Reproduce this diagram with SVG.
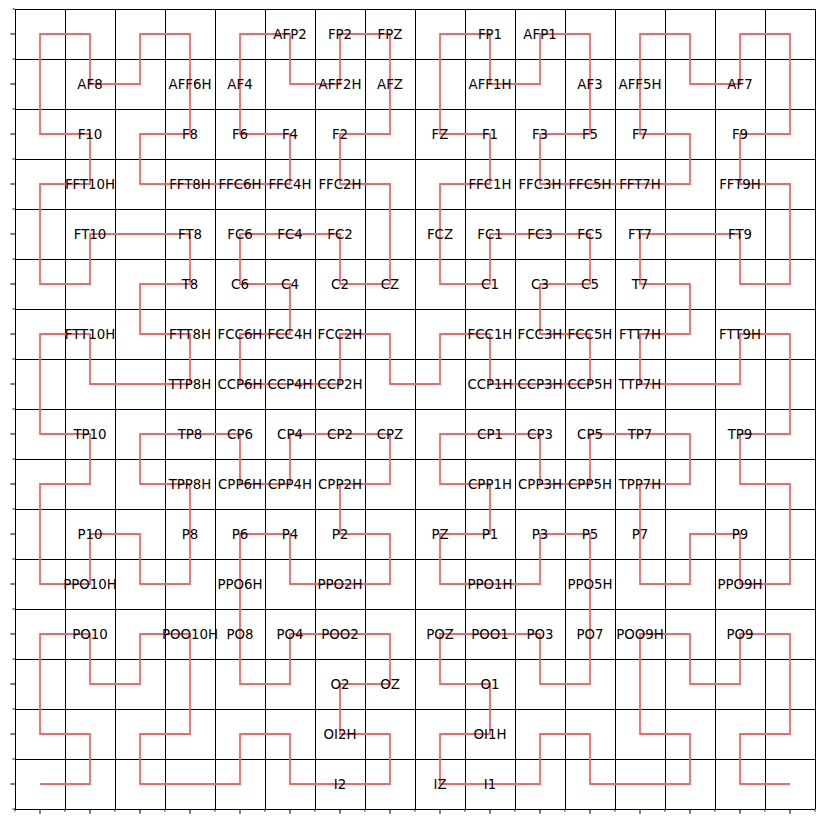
<svg xmlns="http://www.w3.org/2000/svg" width="824" height="824" viewBox="0 0 824 824">
<style>
.grid{stroke:#000;stroke-width:1;fill:none;shape-rendering:crispEdges}
.tk{stroke:#000;stroke-width:1.07;fill:none}
.tkm{stroke:#000;stroke-width:0.8;fill:none}
.curve{stroke:#ff6262;stroke-width:1.8;fill:none;stroke-linejoin:miter;stroke-linecap:butt}
text{font-family:"DejaVu Sans","Liberation Sans",sans-serif;font-size:13.33px;fill:#000;text-anchor:middle}
</style>
<rect width="824" height="824" fill="#fff"/>
<g id="grid">
<path class="grid" d="M15 9V809M65 9V809M115 9V809M165 9V809M215 9V809M265 9V809M315 9V809M365 9V809M415 9V809M465 9V809M515 9V809M565 9V809M615 9V809M665 9V809M715 9V809M765 9V809M815 9V809M15 9H815M15 59H815M15 109H815M15 159H815M15 209H815M15 259H815M15 309H815M15 359H815M15 409H815M15 459H815M15 509H815M15 559H815M15 609H815M15 659H815M15 709H815M15 759H815M15 809H815"/>
<path class="tk" d="M10.33 34h4.67M10.33 84h4.67M10.33 134h4.67M10.33 184h4.67M10.33 234h4.67M10.33 284h4.67M10.33 334h4.67M10.33 384h4.67M10.33 434h4.67M10.33 484h4.67M10.33 534h4.67M10.33 584h4.67M10.33 634h4.67M10.33 684h4.67M10.33 734h4.67M10.33 784h4.67M40 809v4.67M90 809v4.67M140 809v4.67M190 809v4.67M240 809v4.67M290 809v4.67M340 809v4.67M390 809v4.67M440 809v4.67M490 809v4.67M540 809v4.67M590 809v4.67M640 809v4.67M690 809v4.67M740 809v4.67M790 809v4.67"/>
<path class="tkm" d="M12.33 9h2.67M12.33 59h2.67M12.33 109h2.67M12.33 159h2.67M12.33 209h2.67M12.33 259h2.67M12.33 309h2.67M12.33 359h2.67M12.33 409h2.67M12.33 459h2.67M12.33 509h2.67M12.33 559h2.67M12.33 609h2.67M12.33 659h2.67M12.33 709h2.67M12.33 759h2.67M12.33 809h2.67M15 809v2.67M65 809v2.67M115 809v2.67M165 809v2.67M215 809v2.67M265 809v2.67M315 809v2.67M365 809v2.67M415 809v2.67M465 809v2.67M515 809v2.67M565 809v2.67M615 809v2.67M665 809v2.67M715 809v2.67M765 809v2.67M815 809v2.67"/>
</g>
<g id="connectors">
<path class="curve" d="M40 784
h50 v-50 h-50 v-50 v-50 h50 v50 h50 v-50 h50 v50 v50 h-50 v50 h50
h50
v-50 h50 v50 h50 h50 v-50 h-50 v-50 h50 v-50 h-50 h-50 v50 h-50 v-50
v-50
v-50 h50 v50 h50 h50 v-50 h-50 v-50 h50 v-50 h-50 h-50 v50 h-50 v-50
h-50
h-50 v50 h50 v50 v50 h-50 v-50 h-50 v50 h-50 v-50 v-50 h50 v-50 h-50
v-50
v-50 h50 v50 h50 h50 v-50 h-50 v-50 h50 v-50 h-50 h-50 v50 h-50 v-50
v-50
h50 v-50 h-50 v-50 v-50 h50 v50 h50 v-50 h50 v50 v50 h-50 v50 h50
h50
h50 v-50 h-50 v-50 v-50 h50 v50 h50 v-50 h50 v50 v50 h-50 v50 h50
v50
v50 h-50 v-50 h-50 h-50 v50 h50 v50 h-50 v50 h50 h50 v-50 h50 v50
h50
v-50 h50 v50 h50 h50 v-50 h-50 v-50 h50 v-50 h-50 h-50 v50 h-50 v-50
v-50
h50 v-50 h-50 v-50 v-50 h50 v50 h50 v-50 h50 v50 v50 h-50 v50 h50
h50
h50 v-50 h-50 v-50 v-50 h50 v50 h50 v-50 h50 v50 v50 h-50 v50 h50
v50
v50 h-50 v-50 h-50 h-50 v50 h50 v50 h-50 v50 h50 h50 v-50 h50 v50
v50
h-50 v50 h50 v50 v50 h-50 v-50 h-50 v50 h-50 v-50 v-50 h50 v-50 h-50
h-50
v50 h-50 v-50 h-50 h-50 v50 h50 v50 h-50 v50 h50 h50 v-50 h50 v50
v50
v50 h-50 v-50 h-50 h-50 v50 h50 v50 h-50 v50 h50 h50 v-50 h50 v50
h50
h50 v-50 h-50 v-50 v-50 h50 v50 h50 v-50 h50 v50 v50 h-50 v50 h50"/>
</g>
<g id="nodes">
<g id="n-AFP2"><text x="290" y="39">AFP2</text></g>
<g id="n-FP2"><text x="340" y="39">FP2</text></g>
<g id="n-FPZ"><text x="390" y="39">FPZ</text></g>
<g id="n-FP1"><text x="490" y="39">FP1</text></g>
<g id="n-AFP1"><text x="540" y="39">AFP1</text></g>
<g id="n-AF8"><text x="90" y="89">AF8</text></g>
<g id="n-AFF6H"><text x="190" y="89">AFF6H</text></g>
<g id="n-AF4"><text x="240" y="89">AF4</text></g>
<g id="n-AFF2H"><text x="340" y="89">AFF2H</text></g>
<g id="n-AFZ"><text x="390" y="89">AFZ</text></g>
<g id="n-AFF1H"><text x="490" y="89">AFF1H</text></g>
<g id="n-AF3"><text x="590" y="89">AF3</text></g>
<g id="n-AFF5H"><text x="640" y="89">AFF5H</text></g>
<g id="n-AF7"><text x="740" y="89">AF7</text></g>
<g id="n-F10"><text x="90" y="139">F10</text></g>
<g id="n-F8"><text x="190" y="139">F8</text></g>
<g id="n-F6"><text x="240" y="139">F6</text></g>
<g id="n-F4"><text x="290" y="139">F4</text></g>
<g id="n-F2"><text x="340" y="139">F2</text></g>
<g id="n-FZ"><text x="440" y="139">FZ</text></g>
<g id="n-F1"><text x="490" y="139">F1</text></g>
<g id="n-F3"><text x="540" y="139">F3</text></g>
<g id="n-F5"><text x="590" y="139">F5</text></g>
<g id="n-F7"><text x="640" y="139">F7</text></g>
<g id="n-F9"><text x="740" y="139">F9</text></g>
<g id="n-FFT10H"><text x="90" y="189">FFT10H</text></g>
<g id="n-FFT8H"><text x="190" y="189">FFT8H</text></g>
<g id="n-FFC6H"><text x="240" y="189">FFC6H</text></g>
<g id="n-FFC4H"><text x="290" y="189">FFC4H</text></g>
<g id="n-FFC2H"><text x="340" y="189">FFC2H</text></g>
<g id="n-FFC1H"><text x="490" y="189">FFC1H</text></g>
<g id="n-FFC3H"><text x="540" y="189">FFC3H</text></g>
<g id="n-FFC5H"><text x="590" y="189">FFC5H</text></g>
<g id="n-FFT7H"><text x="640" y="189">FFT7H</text></g>
<g id="n-FFT9H"><text x="740" y="189">FFT9H</text></g>
<g id="n-FT10"><text x="90" y="239">FT10</text></g>
<g id="n-FT8"><text x="190" y="239">FT8</text></g>
<g id="n-FC6"><text x="240" y="239">FC6</text></g>
<g id="n-FC4"><text x="290" y="239">FC4</text></g>
<g id="n-FC2"><text x="340" y="239">FC2</text></g>
<g id="n-FCZ"><text x="440" y="239">FCZ</text></g>
<g id="n-FC1"><text x="490" y="239">FC1</text></g>
<g id="n-FC3"><text x="540" y="239">FC3</text></g>
<g id="n-FC5"><text x="590" y="239">FC5</text></g>
<g id="n-FT7"><text x="640" y="239">FT7</text></g>
<g id="n-FT9"><text x="740" y="239">FT9</text></g>
<g id="n-T8"><text x="190" y="289">T8</text></g>
<g id="n-C6"><text x="240" y="289">C6</text></g>
<g id="n-C4"><text x="290" y="289">C4</text></g>
<g id="n-C2"><text x="340" y="289">C2</text></g>
<g id="n-CZ"><text x="390" y="289">CZ</text></g>
<g id="n-C1"><text x="490" y="289">C1</text></g>
<g id="n-C3"><text x="540" y="289">C3</text></g>
<g id="n-C5"><text x="590" y="289">C5</text></g>
<g id="n-T7"><text x="640" y="289">T7</text></g>
<g id="n-FTT10H"><text x="90" y="339">FTT10H</text></g>
<g id="n-FTT8H"><text x="190" y="339">FTT8H</text></g>
<g id="n-FCC6H"><text x="240" y="339">FCC6H</text></g>
<g id="n-FCC4H"><text x="290" y="339">FCC4H</text></g>
<g id="n-FCC2H"><text x="340" y="339">FCC2H</text></g>
<g id="n-FCC1H"><text x="490" y="339">FCC1H</text></g>
<g id="n-FCC3H"><text x="540" y="339">FCC3H</text></g>
<g id="n-FCC5H"><text x="590" y="339">FCC5H</text></g>
<g id="n-FTT7H"><text x="640" y="339">FTT7H</text></g>
<g id="n-FTT9H"><text x="740" y="339">FTT9H</text></g>
<g id="n-TTP8H"><text x="190" y="389">TTP8H</text></g>
<g id="n-CCP6H"><text x="240" y="389">CCP6H</text></g>
<g id="n-CCP4H"><text x="290" y="389">CCP4H</text></g>
<g id="n-CCP2H"><text x="340" y="389">CCP2H</text></g>
<g id="n-CCP1H"><text x="490" y="389">CCP1H</text></g>
<g id="n-CCP3H"><text x="540" y="389">CCP3H</text></g>
<g id="n-CCP5H"><text x="590" y="389">CCP5H</text></g>
<g id="n-TTP7H"><text x="640" y="389">TTP7H</text></g>
<g id="n-TP10"><text x="90" y="439">TP10</text></g>
<g id="n-TP8"><text x="190" y="439">TP8</text></g>
<g id="n-CP6"><text x="240" y="439">CP6</text></g>
<g id="n-CP4"><text x="290" y="439">CP4</text></g>
<g id="n-CP2"><text x="340" y="439">CP2</text></g>
<g id="n-CPZ"><text x="390" y="439">CPZ</text></g>
<g id="n-CP1"><text x="490" y="439">CP1</text></g>
<g id="n-CP3"><text x="540" y="439">CP3</text></g>
<g id="n-CP5"><text x="590" y="439">CP5</text></g>
<g id="n-TP7"><text x="640" y="439">TP7</text></g>
<g id="n-TP9"><text x="740" y="439">TP9</text></g>
<g id="n-TPP8H"><text x="190" y="489">TPP8H</text></g>
<g id="n-CPP6H"><text x="240" y="489">CPP6H</text></g>
<g id="n-CPP4H"><text x="290" y="489">CPP4H</text></g>
<g id="n-CPP2H"><text x="340" y="489">CPP2H</text></g>
<g id="n-CPP1H"><text x="490" y="489">CPP1H</text></g>
<g id="n-CPP3H"><text x="540" y="489">CPP3H</text></g>
<g id="n-CPP5H"><text x="590" y="489">CPP5H</text></g>
<g id="n-TPP7H"><text x="640" y="489">TPP7H</text></g>
<g id="n-P10"><text x="90" y="539">P10</text></g>
<g id="n-P8"><text x="190" y="539">P8</text></g>
<g id="n-P6"><text x="240" y="539">P6</text></g>
<g id="n-P4"><text x="290" y="539">P4</text></g>
<g id="n-P2"><text x="340" y="539">P2</text></g>
<g id="n-PZ"><text x="440" y="539">PZ</text></g>
<g id="n-P1"><text x="490" y="539">P1</text></g>
<g id="n-P3"><text x="540" y="539">P3</text></g>
<g id="n-P5"><text x="590" y="539">P5</text></g>
<g id="n-P7"><text x="640" y="539">P7</text></g>
<g id="n-P9"><text x="740" y="539">P9</text></g>
<g id="n-PPO10H"><text x="90" y="589">PPO10H</text></g>
<g id="n-PPO6H"><text x="240" y="589">PPO6H</text></g>
<g id="n-PPO2H"><text x="340" y="589">PPO2H</text></g>
<g id="n-PPO1H"><text x="490" y="589">PPO1H</text></g>
<g id="n-PPO5H"><text x="590" y="589">PPO5H</text></g>
<g id="n-PPO9H"><text x="740" y="589">PPO9H</text></g>
<g id="n-PO10"><text x="90" y="639">PO10</text></g>
<g id="n-POO10H"><text x="190" y="639">POO10H</text></g>
<g id="n-PO8"><text x="240" y="639">PO8</text></g>
<g id="n-PO4"><text x="290" y="639">PO4</text></g>
<g id="n-POO2"><text x="340" y="639">POO2</text></g>
<g id="n-POZ"><text x="440" y="639">POZ</text></g>
<g id="n-POO1"><text x="490" y="639">POO1</text></g>
<g id="n-PO3"><text x="540" y="639">PO3</text></g>
<g id="n-PO7"><text x="590" y="639">PO7</text></g>
<g id="n-POO9H"><text x="640" y="639">POO9H</text></g>
<g id="n-PO9"><text x="740" y="639">PO9</text></g>
<g id="n-O2"><text x="340" y="689">O2</text></g>
<g id="n-OZ"><text x="390" y="689">OZ</text></g>
<g id="n-O1"><text x="490" y="689">O1</text></g>
<g id="n-OI2H"><text x="340" y="739">OI2H</text></g>
<g id="n-OI1H"><text x="490" y="739">OI1H</text></g>
<g id="n-I2"><text x="340" y="789">I2</text></g>
<g id="n-IZ"><text x="440" y="789">IZ</text></g>
<g id="n-I1"><text x="490" y="789">I1</text></g>
</g>
</svg>
